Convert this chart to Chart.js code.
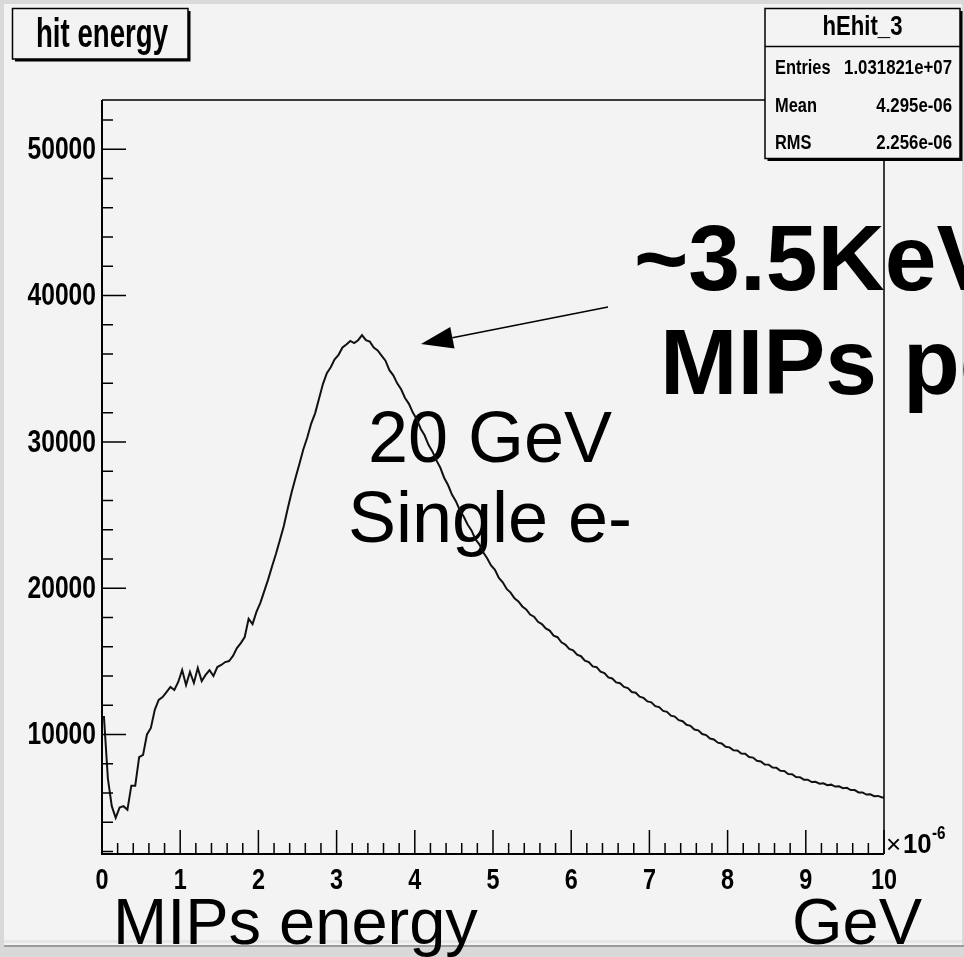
<!DOCTYPE html>
<html><head><meta charset="utf-8">
<script src="https://cdn.jsdelivr.net/npm/chart.js@4.4.1/dist/chart.umd.min.js"></script>
<style>html,body{margin:0;padding:0;background:#f3f3f3;overflow:hidden}canvas{display:block}</style>
</head><body>
<canvas id="c" width="964" height="957"></canvas>
<script>
// ---------- data ----------
const X_MIN = 0, X_MAX = 10, BIN_WIDTH = 0.05;   // units of 1e-6 GeV
const Y_MIN = 1830, Y_MAX = 53370;
const hitCounts = [
  11200, 7000, 5100, 4300, 5000, 5100, 4850, 6500, 6500, 8450,
  8600, 10000, 10450, 11680, 12360, 12560, 12900, 13250, 13040, 13590,
  14410, 13380, 14270, 13520, 14540, 13650, 14070, 14400, 14000, 14610,
  14750, 14950, 15020, 15370, 15910, 16250, 16660, 17900, 17550, 18380,
  19000, 19800, 20600, 21500, 22350, 23300, 24250, 25450, 26550, 27550,
  28500, 29500, 30300, 31250, 31950, 32950, 33950, 34700, 35100, 35650,
  35950, 36450, 36650, 36900, 36750, 36950, 37300, 36950, 36850, 36450,
  36250, 35900, 35550, 34900, 34550, 34000, 33600, 33000, 32600, 32000,
  31550, 30900, 30450, 29800, 29350, 28750, 28250, 27550, 27050, 26400,
  25950, 25350, 24900, 24350, 23950, 23350, 23000, 22450, 22050, 21550,
  21250, 20700, 20400, 19950, 19700, 19300, 19100, 18750, 18550, 18200,
  18050, 17700, 17550, 17250, 17100, 16750, 16650, 16300, 16150, 15850,
  15750, 15450, 15350, 15050, 14950, 14650, 14600, 14300, 14200, 13900,
  13830, 13560, 13500, 13250, 13170, 12900, 12850, 12580, 12500, 12260,
  12200, 11940, 11870, 11610, 11550, 11290, 11220, 10980, 10910, 10660,
  10590, 10340, 10280, 10030, 9960, 9720, 9660, 9440, 9390, 9160,
  9120, 8920, 8900, 8700, 8680, 8460, 8420, 8200, 8160, 7950,
  7940, 7740, 7720, 7520, 7500, 7300, 7280, 7090, 7080, 6910,
  6910, 6750, 6760, 6640, 6660, 6530, 6570, 6440, 6460, 6330,
  6350, 6200, 6200, 6040, 6040, 5890, 5910, 5780, 5800, 5700
];
const xTickLabels = [0, 1, 2, 3, 4, 5, 6, 7, 8, 9, 10];
const yTickLabels = [10000, 20000, 30000, 40000, 50000];
const histTitle = "hit energy";
const histName = "hEhit_3";
const statsRows = [["Entries", "1.031821e+07"], ["Mean", "4.295e-06"], ["RMS", "2.256e-06"]];
const xExponent = "-6";
const xAxisTitle = "MIPs energy";
const xAxisUnit = "GeV";
const sampleLines = ["20 GeV", "Single e-"];
const noteLines = ["~3.5KeV", "MIPs peak"];

// ---------- rendering ----------
const SANS = '"Liberation Sans", Arial, Helvetica, sans-serif';
const BG = '#f3f3f3';

// polyline through bin centres, anchored at the range edges
const histPoints = [{ x: X_MIN, y: hitCounts[0] }].concat(
  hitCounts.map((v, i) => ({ x: X_MIN + (i + 0.5) * BIN_WIDTH, y: v })),
  [{ x: X_MAX, y: hitCounts[hitCounts.length - 1] }]
);

function narrow(ctx, text, x, y, size, align, sx) {
  ctx.save();
  ctx.translate(x, y);
  ctx.scale(sx || 0.8, 1);
  ctx.font = 'bold ' + size + 'px ' + SANS;
  ctx.textAlign = align;
  ctx.fillText(text, 0, 0);
  ctx.restore();
}

function box(ctx, x0, y0, x1, y1, sh) {
  ctx.fillStyle = '#000';
  ctx.fillRect(x0 + sh, y0 + sh, x1 - x0, y1 - y0);
  ctx.fillStyle = BG;
  ctx.fillRect(x0, y0, x1 - x0, y1 - y0);
  ctx.strokeStyle = '#000';
  ctx.lineWidth = 1.5;
  ctx.strokeRect(x0, y0, x1 - x0, y1 - y0);
}

const rootDecor = {
  id: 'rootDecor',
  beforeDraw(chart) {
    const ctx = chart.ctx, W = chart.width, H = chart.height;
    ctx.save();
    ctx.fillStyle = '#d9d9d9';
    ctx.fillRect(0, 0, W, H);
    ctx.fillStyle = BG;
    ctx.fillRect(4, 4, W - 6, 941);
    ctx.fillStyle = '#e6e6e6';
    ctx.fillRect(4, 940, W - 6, 3);
    ctx.fillStyle = '#9c9c9c';
    ctx.fillRect(4, 945, W - 4, 2);
    ctx.restore();
  },
  beforeDatasetsDraw(chart) {
    const ctx = chart.ctx;
    ctx.save();
    ctx.fillStyle = '#000';
    ctx.textBaseline = 'alphabetic';
    ctx.font = '72px ' + SANS;
    ctx.textAlign = 'center';
    ctx.fillText(sampleLines[0], 490, 462);
    ctx.fillText(sampleLines[1], 490, 542);
    ctx.font = 'bold 93px ' + SANS;
    ctx.textAlign = 'left';
    ctx.fillText(noteLines[0], 634, 290);
    ctx.fillText(noteLines[1], 660, 394);
    ctx.restore();
  },
  afterDatasetsDraw(chart) {
    const ctx = chart.ctx;
    const a = chart.chartArea;
    const xs = chart.scales.x, ys = chart.scales.y;
    ctx.save();
    ctx.fillStyle = '#000';
    ctx.textBaseline = 'alphabetic';
    // frame
    ctx.strokeStyle = '#000';
    ctx.lineWidth = 1.5;
    ctx.beginPath();
    ctx.moveTo(a.left, a.top); ctx.lineTo(a.right, a.top); ctx.lineTo(a.right, a.bottom);
    ctx.stroke();
    ctx.lineWidth = 2;
    ctx.beginPath();
    ctx.moveTo(a.left, a.top); ctx.lineTo(a.left, a.bottom); ctx.lineTo(a.right, a.bottom);
    ctx.stroke();
    // x ticks (inside, upward)
    ctx.lineWidth = 1.5;
    ctx.beginPath();
    const xStep = (xTickLabels[1] - xTickLabels[0]) / 5;
    for (let i = 0; i <= (xTickLabels.length - 1) * 5; i++) {
      const px = xs.getPixelForValue(xTickLabels[0] + i * xStep);
      const len = (i % 5 === 0) ? 24 : 11;
      ctx.moveTo(px, a.bottom); ctx.lineTo(px, a.bottom - len);
    }
    // y ticks (inside, to the right)
    const yMajor = yTickLabels[1] - yTickLabels[0];
    const yStep = yMajor / 5;
    for (let k = 1; k * yStep <= Y_MAX; k++) {
      const v = k * yStep;
      if (v < Y_MIN) continue;
      const py = ys.getPixelForValue(v);
      ctx.moveTo(a.left, py); ctx.lineTo(a.left + (k % 5 === 0 ? 24 : 11), py);
    }
    ctx.stroke();

    // tick labels
    xTickLabels.forEach(v => narrow(ctx, String(v), xs.getPixelForValue(v), 889, 30, 'center', 0.78));
    ctx.textBaseline = 'middle';
    yTickLabels.forEach(v => narrow(ctx, String(v), 96, ys.getPixelForValue(v) + 1, 32, 'right', 0.77));
    ctx.textBaseline = 'alphabetic';

    // arrow
    const sx = 608, sy = 307, tx = 421, ty = 344;
    const dx = tx - sx, dy = ty - sy, L = Math.hypot(dx, dy), ux = dx / L, uy = dy / L;
    const bx = tx - 32 * ux, by = ty - 32 * uy;
    ctx.lineWidth = 1.4;
    ctx.beginPath(); ctx.moveTo(sx, sy); ctx.lineTo(bx, by); ctx.stroke();
    ctx.beginPath();
    ctx.moveTo(tx, ty);
    ctx.lineTo(bx - 11 * uy, by + 11 * ux);
    ctx.lineTo(bx + 11 * uy, by - 11 * ux);
    ctx.closePath(); ctx.fill();

    // x10^-6
    ctx.font = '26px ' + SANS;
    ctx.textAlign = 'left';
    ctx.fillText('\u00d7', a.right + 2, 853);
    narrow(ctx, '10', a.right + 19, 853, 28, 'left', 0.92);
    narrow(ctx, xExponent, a.right + 48, 839, 18, 'left', 0.85);

    // title box
    box(ctx, 12.5, 8.5, 188, 59, 2.5);
    ctx.fillStyle = '#000';
    ctx.font = 'bold 40px ' + SANS;
    ctx.textAlign = 'center';
    ctx.fillText(histTitle, 102, 47, 132);

    // stats box
    box(ctx, 765, 8.5, 960, 158.5, 2.5);
    ctx.lineWidth = 1.5;
    ctx.beginPath(); ctx.moveTo(765, 46.5); ctx.lineTo(960, 46.5); ctx.stroke();
    ctx.fillStyle = '#000';
    ctx.font = 'bold 28px ' + SANS;
    ctx.textAlign = 'center';
    ctx.fillText(histName, 862.5, 35, 80);
    const rowY = [73.5, 111.5, 148.5];
    statsRows.forEach((r, i) => {
      narrow(ctx, r[0], 775, rowY[i], 20, 'left', 0.82);
      narrow(ctx, r[1], 952, rowY[i], 20, 'right', 0.84);
    });

    // axis titles
    ctx.font = '65px ' + SANS;
    ctx.textAlign = 'left';
    ctx.fillText(xAxisTitle, 113, 944);
    ctx.fillText(xAxisUnit, 792, 944);
    ctx.restore();
  }
};

new Chart(document.getElementById('c'), {
  type: 'line',
  data: {
    datasets: [{
      data: histPoints,
      borderColor: '#111',
      borderWidth: 2,
      pointRadius: 0,
      fill: false,
      tension: 0
    }]
  },
  options: {
    responsive: false,
    animation: false,
    devicePixelRatio: 1,
    events: [],
    layout: { padding: { left: 0, top: 100, right: 80, bottom: 0 } },
    plugins: { legend: { display: false }, tooltip: { enabled: false } },
    scales: {
      x: {
        type: 'linear', min: X_MIN, max: X_MAX,
        afterBuildTicks: s => { s.ticks = xTickLabels.map(v => ({ value: v })); },
        afterFit: s => { s.height = 103; },
        grid: { display: false, drawTicks: false },
        border: { display: false },
        ticks: { display: false }
      },
      y: {
        type: 'linear', min: Y_MIN, max: Y_MAX,
        afterBuildTicks: s => { s.ticks = yTickLabels.map(v => ({ value: v })); },
        afterFit: s => { s.width = 102; },
        grid: { display: false, drawTicks: false },
        border: { display: false },
        ticks: { display: false }
      }
    }
  },
  plugins: [rootDecor]
});
</script>
</body></html>
